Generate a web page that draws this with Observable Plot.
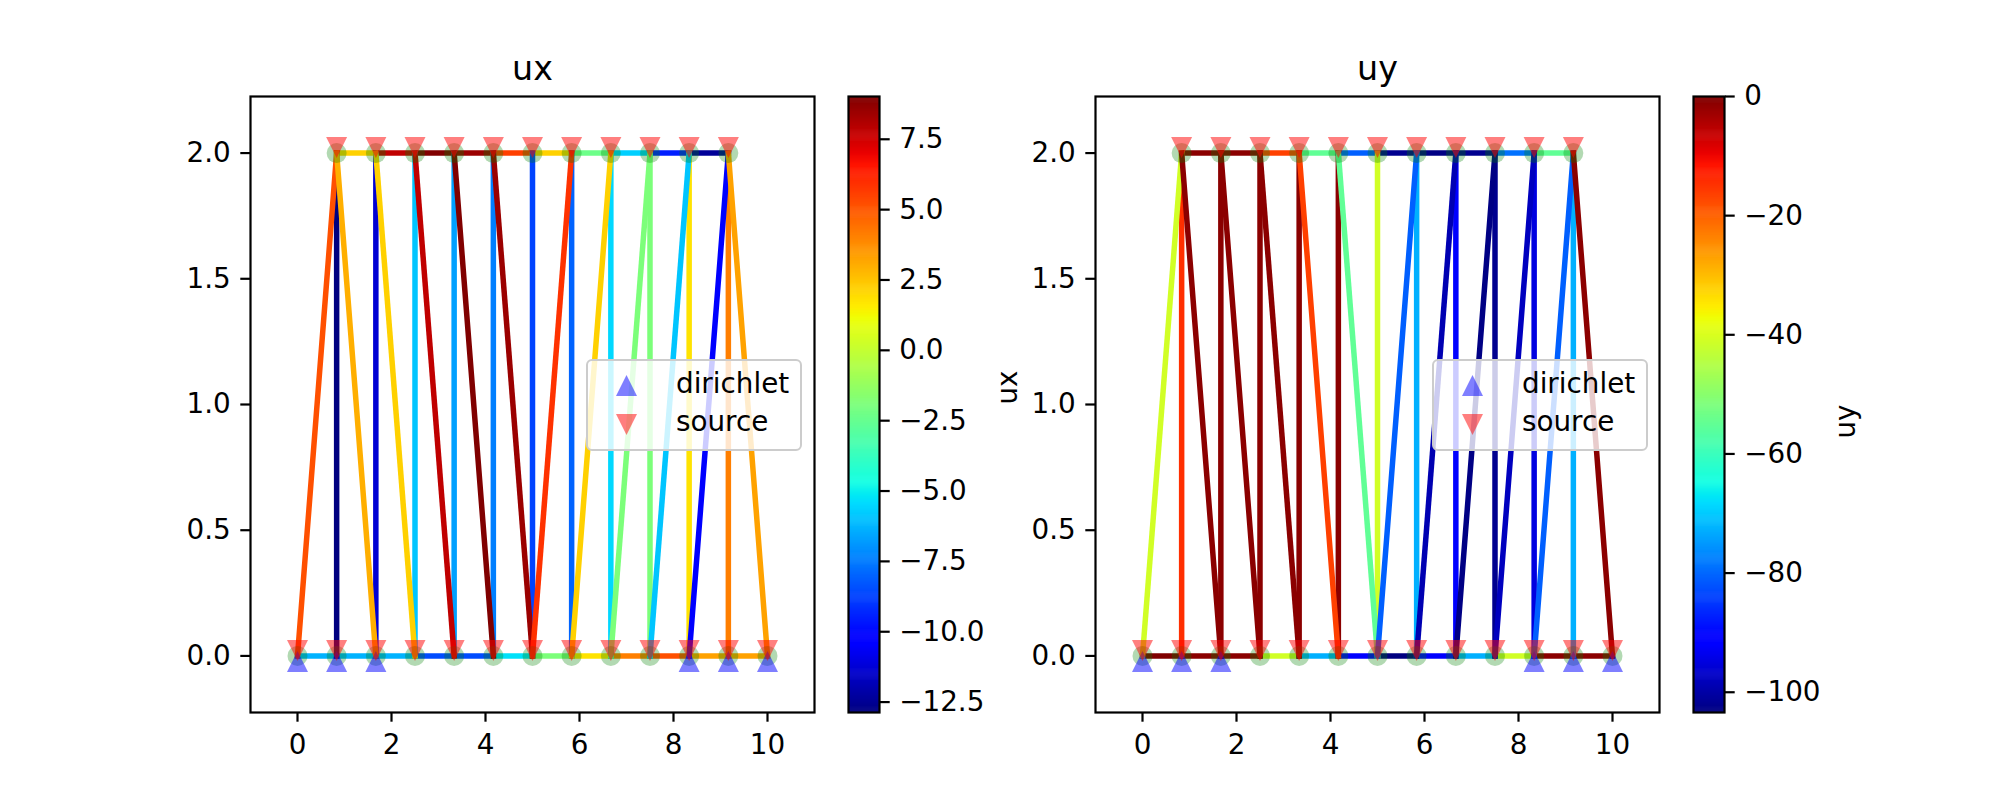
<!DOCTYPE html>
<html>
<head>
<meta charset="utf-8">
<script src="https://cdn.jsdelivr.net/npm/d3@7"></script>
<script src="https://cdn.jsdelivr.net/npm/@observablehq/plot@0.6"></script>
<style>
  html, body { margin: 0; padding: 0; background: #fff; }
  #fig { position: relative; width: 2000px; height: 800px; overflow: hidden; font-family: "DejaVu Sans", sans-serif; }
  #fig svg.panel { position: absolute; top: 0; }
  .legend { position: absolute; top: 359px; width: 212px; height: 88px; background: rgba(255,255,255,0.8);
            border: 2px solid #cccccc; border-radius: 6px; }
  .legend svg { position: absolute; left: 27px; width: 23px; height: 23px; overflow: visible; }
  .legend span { position: absolute; left: 88px; font-size: 27.8px; line-height: 32px; color: #000; white-space: nowrap; }
</style>
</head>
<body>
<div id="fig"></div>
<script>
// ---- truss nodes (bottom chord 0..12, top chord 1..11) ----
const nodeX = [0, 0.833, 1.667, 2.5, 3.333, 4.167, 5, 5.833, 6.667, 7.5, 8.333, 9.167, 10,
               0.833, 1.667, 2.5, 3.333, 4.167, 5, 5.833, 6.667, 7.5, 8.333, 9.167];
const nodeY = [0, 0, 0, 0, 0, 0, 0, 0, 0, 0, 0, 0, 0,
               2, 2, 2, 2, 2, 2, 2, 2, 2, 2, 2];
const dirichletNodes = [0, 1, 2, 10, 11, 12];
const sourceNodes = [0, 1, 2, 3, 4, 5, 6, 7, 8, 9, 10, 11, 12, 13, 14, 15, 16, 17, 18, 19, 20, 21, 22, 23];

// ---- members: bottom chord, top chord, verticals, diagonals ----
const memberStart = [0, 1, 2, 3, 4, 5, 6, 7, 8, 9, 10, 11,
                     13, 14, 15, 16, 17, 18, 19, 20, 21, 22,
                     1, 2, 3, 4, 5, 6, 7, 8, 9, 10, 11,
                     0, 13, 14, 15, 16, 17, 6, 7, 8, 9, 10, 23];
const memberEnd   = [1, 2, 3, 4, 5, 6, 7, 8, 9, 10, 11, 12,
                     14, 15, 16, 17, 18, 19, 20, 21, 22, 23,
                     13, 14, 15, 16, 17, 18, 19, 20, 21, 22, 23,
                     13, 2, 3, 4, 5, 6, 19, 20, 21, 22, 23, 12];

// ---- member values ----
const uxValues = [-6.3, -6.3, -6.3, -8.5, -8.5, -5.3, -1.9, 1.8, 4.1, 5.2, 3.3, 3.3,
                  2.2, 7.8, 9.0, 8.5, 5.6, 2.2, -2.3, -5.7, -9.5, -12.4,
                  -12.87, -11.3, -5.9, -6.7, -7.4, -8.7, -8.0, -5.5, -1.9, 1.8, 4.1,
                  5.2, 3.0, 2.2, 7.8, 9.02, 8.5, 5.9, 2.2, -1.9, -5.9, -10.3, 3.3];
const uyValues = [0, -1, -1, -41, -72.6, -91.2, -103.4, -91.2, -72.6, -41, -1, -1,
                  -1, -1, -16.3, -55, -80.8, -102, -103, -102, -79, -55,
                  -14.5, -1, -1, -1, -1, -41, -72.6, -92, -102, -94.8, -72.6,
                  -41, -1, -1, -1, -16.3, -55, -80.8, -98.9, -103, -97.7, -80.8, -1];

// ---- tick labels ----
const xTicks = [0, 2, 4, 6, 8, 10];
const yTicks = [0, 0.5, 1.0, 1.5, 2.0];
const uxBarTicks = [-12.5, -10, -7.5, -5, -2.5, 0, 2.5, 5, 7.5];
const uyBarTicks = [-100, -80, -60, -40, -20, 0];

// matplotlib "jet"
function pw(pts, t) {
  for (let i = 1; i < pts.length; i++) {
    if (t <= pts[i][0]) {
      const [t0, v0] = pts[i - 1], [t1, v1] = pts[i];
      return v0 + (v1 - v0) * (t - t0) / (t1 - t0);
    }
  }
  return pts[pts.length - 1][1];
}
function jet(t) {
  t = Math.max(0, Math.min(1, t));
  const r = pw([[0, 0], [0.35, 0], [0.66, 1], [0.89, 1], [1, 0.5]], t);
  const g = pw([[0, 0], [0.125, 0], [0.375, 1], [0.64, 1], [0.91, 0], [1, 0]], t);
  const b = pw([[0, 0.5], [0.11, 1], [0.34, 1], [0.65, 0], [1, 0]], t);
  return `rgb(${Math.round(r * 255)},${Math.round(g * 255)},${Math.round(b * 255)})`;
}

// matplotlib-like triangle markers (square bounding box)
const triUp = { draw(ctx, size) { const r = Math.sqrt(size / Math.PI); ctx.moveTo(0, -r); ctx.lineTo(r, r); ctx.lineTo(-r, r); ctx.closePath(); } };
const triDown = { draw(ctx, size) { const r = Math.sqrt(size / Math.PI); ctx.moveTo(0, r); ctx.lineTo(r, -r); ctx.lineTo(-r, -r); ctx.closePath(); } };

const FONT = { fontFamily: "DejaVu Sans", fontSize: "27.8px", background: "transparent", overflow: "visible", color: "#000" };
const minus = s => s.replace("-", "\u2212");

function panel(values, title, ylabel, left, width, marginLeft) {
  const links = memberStart.map((s, i) => ({
    x1: nodeX[s], y1: nodeY[s], x2: nodeX[memberEnd[i]], y2: nodeY[memberEnd[i]], v: values[i]
  }));
  const nodes = nodeX.map((x, i) => ({ x, y: nodeY[i] }));
  const dir = dirichletNodes.map(i => nodes[i]);
  const src = sourceNodes.map(i => nodes[i]);
  const svg = Plot.plot({
    width, height: 800,
    marginTop: 96, marginBottom: 88, marginLeft, marginRight: width - marginLeft - 564,
    x: { domain: [-1, 11] },
    y: { domain: [-0.225, 2.225] },
    color: { type: "linear", domain: d3.extent(values), interpolate: jet },
    style: FONT,
    marks: [
      Plot.link(links, { x1: "x1", y1: "y1", x2: "x2", y2: "y2", stroke: "v", strokeWidth: 5.5, strokeLinecap: "square" }),
      Plot.dot(nodes, { x: "x", y: "y", r: 10, fill: "green", fillOpacity: 0.3, stroke: null }),
      Plot.dot(dir, { x: "x", y: "y", r: 10.5, symbol: triUp, fill: "blue", fillOpacity: 0.5, stroke: null, dy: 5.5 }),
      Plot.dot(src, { x: "x", y: "y", r: 10.5, symbol: triDown, fill: "red", fillOpacity: 0.5, stroke: null, dy: -5.5 }),
      Plot.frame({ stroke: "black", strokeWidth: 2.2 }),
      Plot.axisX({ ticks: xTicks, tickSize: 9.7, tickPadding: 12.4, strokeWidth: 2.2, label: null, tickFormat: d => String(d) }),
      Plot.axisY({ ticks: yTicks, tickSize: 9.7, tickPadding: 10, strokeWidth: 2.2, label: null, tickFormat: d => d.toFixed(1) }),
      Plot.text([title], { frameAnchor: "top", dy: -16.7, lineAnchor: "bottom", fontSize: 33.3, text: d => d }),
      ylabel ? Plot.text([ylabel], { frameAnchor: "left", dx: -87, rotate: -90, text: d => d }) : null
    ]
  });
  svg.classList.add("panel");
  svg.style.left = left + "px";
  return svg;
}

function colorbar(values, ticks, fmt, label, left, width) {
  const dom = d3.extent(values);
  const n = 600;
  const bands = d3.range(n).map(i => dom[0] + (i + 0.5) * (dom[1] - dom[0]) / n);
  const svg = Plot.plot({
    width, height: 800,
    marginTop: 96, marginBottom: 88, marginLeft: 13, marginRight: width - 13 - 31,
    y: { domain: dom },
    color: { type: "linear", domain: dom, interpolate: jet },
    style: FONT,
    marks: [
      Plot.ruleY(bands, { y: d => d, stroke: d => d, strokeWidth: 616 / n + 0.6 }),
      Plot.frame({ stroke: "black", strokeWidth: 2.2 }),
      Plot.axisY({ anchor: "right", ticks, tickSize: 9.7, tickPadding: 10, strokeWidth: 2.2, label: null, tickFormat: fmt }),
      label ? Plot.text([label], { frameAnchor: "right", dx: 121.5, rotate: -90, text: d => d }) : null
    ]
  });
  svg.classList.add("panel");
  svg.style.left = left + "px";
  return svg;
}

function legend(left) {
  const div = document.createElement("div");
  div.className = "legend";
  div.style.left = left + "px";
  div.innerHTML = `
    <svg style="top:13px" viewBox="-11.5 -11.5 23 23"><path d="M0,-10.5L10.5,10.5L-10.5,10.5Z" fill="blue" fill-opacity="0.5"/></svg>
    <span style="top:7px">dirichlet</span>
    <svg style="top:52px" viewBox="-11.5 -11.5 23 23"><path d="M0,10.5L10.5,-10.5L-10.5,-10.5Z" fill="red" fill-opacity="0.5"/></svg>
    <span style="top:45px">source</span>`;
  return div;
}

const fig = document.getElementById("fig");
fig.appendChild(panel(uxValues, "ux", null, 0, 835, 250));
fig.appendChild(colorbar(uxValues, uxBarTicks, d => minus(d.toFixed(1)), null, 835, 165));
fig.appendChild(panel(uyValues, "uy", "ux", 1000, 680, 95));
fig.appendChild(colorbar(uyValues, uyBarTicks, d => minus(String(d)), "uy", 1680, 320));
fig.appendChild(legend(586));
fig.appendChild(legend(1432));
</script>
</body>
</html>
